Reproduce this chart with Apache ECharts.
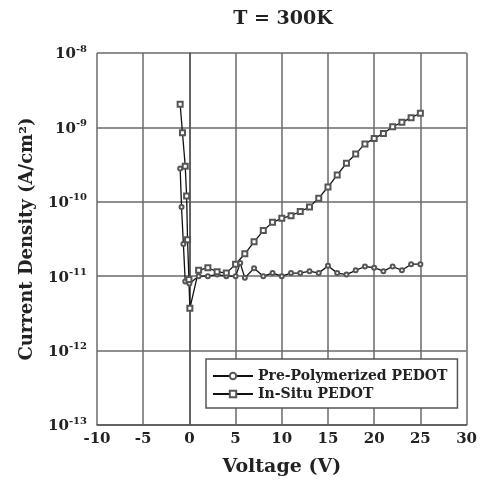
<!DOCTYPE html>
<html>
<head>
<meta charset="utf-8">
<script src="https://cdn.jsdelivr.net/npm/echarts@6/dist/echarts.min.js"></script>
<style>html,body{margin:0;padding:0;background:#fff}#c{width:480px;height:491px}</style>
</head>
<body>
<div id="c"></div>
<script>
const titleText = 'T = 300K';
const xName = 'Voltage (V)';
const yName = 'Current Density (A/cm²)';
const xTicks = [-10, -5, 0, 5, 10, 15, 20, 25, 30];
const yExponents = [-13, -12, -11, -10, -9, -8];

const preV = [-1, -0.85, -0.65, -0.45, 0, 1, 2, 3, 4, 5, 5.5, 6, 7, 8, 9, 10, 11, 12, 13, 14, 15, 16, 17, 18, 19, 20, 21, 22, 23, 24, 25];
const preJ = [2.8e-10, 8.5e-11, 2.7e-11, 8.5e-12, 8e-12, 1.0e-11, 1.0e-11, 1.05e-11, 1.0e-11, 1.0e-11, 1.5e-11, 9.5e-12, 1.28e-11, 1.0e-11, 1.1e-11, 1.0e-11, 1.1e-11, 1.1e-11, 1.17e-11, 1.1e-11, 1.38e-11, 1.1e-11, 1.05e-11, 1.2e-11, 1.35e-11, 1.3e-11, 1.17e-11, 1.35e-11, 1.2e-11, 1.45e-11, 1.45e-11];

const inV = [-1, -0.75, -0.45, -0.3, -0.2, -0.05, 0.05, 1, 2, 3, 4, 5, 6, 7, 8, 9, 10, 11, 12, 13, 14, 15, 16, 17, 18, 19, 20, 21, 22, 23, 24, 25];
const inJ = [2.05e-9, 8.5e-10, 3e-10, 1.2e-10, 3.1e-11, 9e-12, 3.7e-12, 1.2e-11, 1.3e-11, 1.15e-11, 1.1e-11, 1.45e-11, 2e-11, 2.9e-11, 4.1e-11, 5.3e-11, 6e-11, 6.5e-11, 7.4e-11, 8.5e-11, 1.12e-10, 1.58e-10, 2.3e-10, 3.3e-10, 4.4e-10, 6e-10, 7.1e-10, 8.3e-10, 1.02e-9, 1.17e-9, 1.35e-9, 1.55e-9];

const seriesNames = ['Pre-Polymerized PEDOT', 'In-Situ PEDOT'];

const serif = 'DejaVu Serif';
const ink = '#222';
const chart = echarts.init(document.getElementById('c'));
const zip = (a, b) => a.map((v, i) => [v, b[i]]);
chart.setOption({
  animation: false,
  backgroundColor: '#fff',
  title: {
    text: titleText, left: 278, top: 5, textAlign: 'center',
    textStyle: { fontFamily: serif, fontWeight: 'bold', fontSize: 19, color: ink }
  },
  grid: { left: 97, right: 13, top: 53, bottom: 66 },
  xAxis: {
    type: 'value', min: xTicks[0], max: xTicks[xTicks.length - 1], interval: 5,
    name: xName, nameLocation: 'middle', nameGap: 33,
    nameTextStyle: { fontFamily: serif, fontWeight: 'bold', fontSize: 19, color: ink },
    axisLine: { lineStyle: { color: '#555', width: 1.5 } },
    axisTick: { show: false },
    axisLabel: { fontFamily: serif, fontWeight: 'bold', fontSize: 15, color: ink, margin: 7 },
    splitLine: { show: true, lineStyle: { color: '#6a6a6a', width: 1.5 } }
  },
  yAxis: {
    type: 'log', logBase: 10, min: Math.pow(10, yExponents[0]), max: Math.pow(10, yExponents[yExponents.length - 1]),
    name: yName, nameLocation: 'middle', nameGap: 61,
    nameTextStyle: { fontFamily: serif, fontWeight: 'bold', fontSize: 18, color: ink },
    axisLine: { lineStyle: { color: '#555', width: 1.5 } },
    axisTick: { show: false },
    axisLabel: {
      margin: 10,
      formatter: v => '{a|10}{b|' + Math.round(Math.log10(v)) + '}',
      rich: {
        a: { fontFamily: serif, fontWeight: 'bold', fontSize: 15, color: ink, lineHeight: 18, verticalAlign: 'bottom' },
        b: { fontFamily: serif, fontWeight: 'bold', fontSize: 10, color: ink, verticalAlign: 'top', lineHeight: 18, padding: [0, 0, 8, 0] }
      }
    },
    splitLine: { show: true, lineStyle: { color: '#6a6a6a', width: 1.5 } }
  },
  legend: {
    orient: 'vertical', left: 206, top: 359, width: 256, height: 53,
    padding: [10, 10, 7, 6], itemGap: 4,
    itemWidth: 40, itemHeight: 8,
    borderColor: '#555', borderWidth: 1.5, backgroundColor: '#fff',
    textStyle: { fontFamily: serif, fontWeight: 'bold', fontSize: 14, color: ink },
    data: seriesNames
  },
  series: [
    {
      name: seriesNames[0], type: 'line', data: zip(preV, preJ),
      symbol: 'emptyCircle', symbolSize: 4,
      lineStyle: { color: '#111', width: 1.3 },
      itemStyle: { color: '#555', borderWidth: 1 }
    },
    {
      name: seriesNames[1], type: 'line', data: zip(inV, inJ),
      symbol: 'emptyRect', symbolSize: 5,
      lineStyle: { color: '#111', width: 1.3 },
      itemStyle: { color: '#555', borderWidth: 1 }
    }
  ]
});
</script>
</body>
</html>
